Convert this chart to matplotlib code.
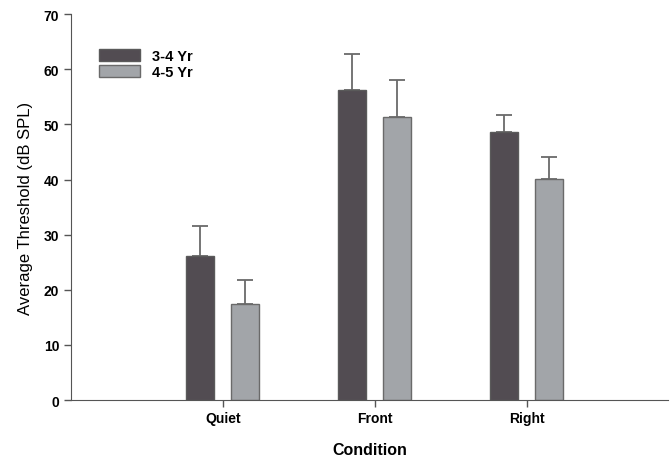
import matplotlib
matplotlib.use("Agg")
import matplotlib.pyplot as plt
import numpy as np

plt.rcParams['font.family'] = ['Liberation Sans', 'DejaVu Sans']

categories = ["Quiet", "Front", "Right"]
series_names = ["3-4 Yr", "4-5 Yr"]
means_34 = [26.1, 56.2, 48.6]
err_34 = [5.5, 6.5, 3.1]
means_45 = [17.4, 51.3, 40.1]
err_45 = [4.4, 6.7, 4.0]
yticks = [0, 10, 20, 30, 40, 50, 60, 70]

dark = "#524c52"
light = "#a2a5a9"
edge = "#5a5a5a"

fig = plt.figure(figsize=(6.7, 4.6), dpi=100)
ax = fig.add_axes([0.106, 0.128, 0.891, 0.839])

x = np.arange(1, len(categories) + 1)
w = 0.185
off = 0.148
ax.bar(x - off, means_34, w, color=dark, edgecolor=edge, linewidth=1.0, label=series_names[0], zorder=2)
ax.bar(x + off, means_45, w, color=light, edgecolor="#6a6a6a", linewidth=1.0, label=series_names[1], zorder=2)
ax.errorbar(x - off, means_34, yerr=[np.zeros(3), err_34], fmt='none', ecolor="#6a6a6a",
            elinewidth=1.3, capsize=6, capthick=1.3, zorder=1)
ax.errorbar(x + off, means_45, yerr=[np.zeros(3), err_45], fmt='none', ecolor="#6a6a6a",
            elinewidth=1.3, capsize=6, capthick=1.3, zorder=1)

ax.set_xlim(0, 3.93)
ax.set_ylim(0, 70)
ax.set_yticks(yticks)
ax.set_xticks(x)
ax.set_xticklabels(categories, fontsize=10, fontweight='bold')
for lab in ax.get_yticklabels():
    lab.set_fontweight('bold')
    lab.set_fontsize(10)
ax.spines['top'].set_visible(False)
ax.spines['right'].set_visible(False)
ax.spines['left'].set_color("#555555")
ax.spines['bottom'].set_color("#555555")
ax.tick_params(axis='both', direction='out', length=5, color="#555555", width=1)
ax.tick_params(axis='x', pad=3)
ax.set_ylabel("Average Threshold (dB SPL)", fontsize=12, labelpad=8)
ax.set_xlabel("Condition", fontsize=11.5, fontweight='bold', labelpad=12)

leg = ax.legend(loc='upper left', bbox_to_anchor=(0.025, 0.945), frameon=False,
                prop={'weight': 'bold', 'size': 10.5}, handlelength=2.8, handleheight=0.9,
                labelspacing=0.15, handletextpad=0.8)

fig.savefig("out.png", dpi=100)
